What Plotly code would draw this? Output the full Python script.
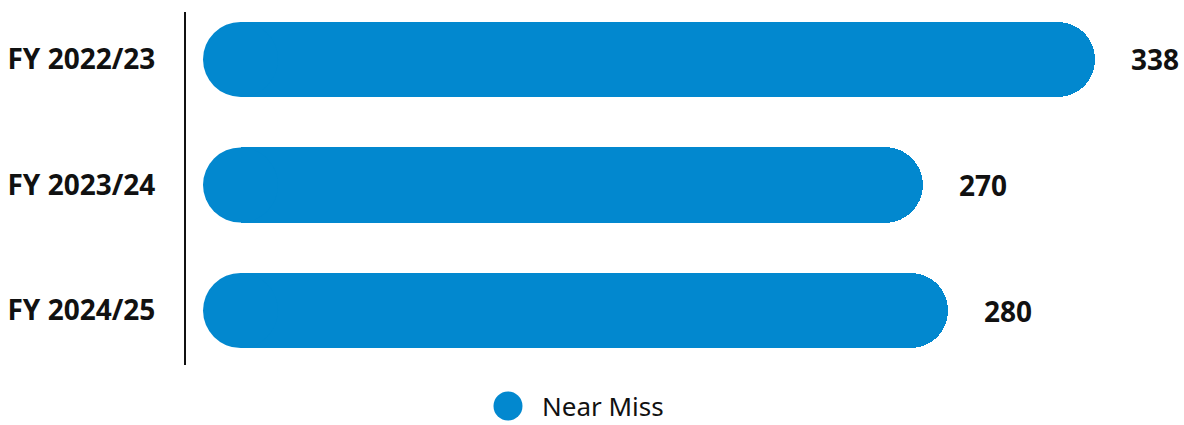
import plotly.graph_objects as go

# Near-miss counts per financial year
years = ["FY 2022/23", "FY 2023/24", "FY 2024/25"]
near_miss = [338, 270, 280]
series_name = "Near Miss"

BLUE = "#0288CF"
INK = "#111111"
BAR_PX = 75          # bar thickness in pixels
ROW_PX = 125.5       # distance between bar centres in pixels

fig = go.Figure()

# Bars, rounded at the value end
fig.add_trace(go.Bar(
    y=years, x=near_miss, orientation="h",
    width=BAR_PX / ROW_PX,
    marker=dict(color=BLUE, line=dict(width=0), cornerradius="50%"),
    showlegend=False, hoverinfo="skip",
))

# Round cap at the base of each bar
fig.add_trace(go.Scatter(
    y=years, x=[0] * len(years), mode="markers",
    marker=dict(size=BAR_PX, color=BLUE, line=dict(width=0), symbol="circle"),
    showlegend=False, hoverinfo="skip", cliponaxis=False,
))

# Value labels to the right of each bar
for yr, v in zip(years, near_miss):
    fig.add_annotation(
        x=v, y=yr, xref="x", yref="y", text=f"<b>{v}</b>",
        showarrow=False, xanchor="left", yanchor="middle", xshift=34,
        font=dict(family="Noto Sans", size=28, color=INK),
    )

# Legend: swatch and label below the bars
L, T, B, W = 186, 12, 60, 1184
plot_w, plot_h = W - L, 425 - T - B
sw_x = (508 - L) / plot_w
sw_y = (365 - 406) / plot_h
fig.add_shape(
    type="circle", xref="paper", yref="paper",
    xsizemode="pixel", ysizemode="pixel",
    xanchor=sw_x, yanchor=sw_y, x0=-14.5, x1=14.5, y0=-14.5, y1=14.5,
    fillcolor=BLUE, line=dict(width=0),
)
fig.add_annotation(
    x=(541 - L) / plot_w, y=sw_y, xref="paper", yref="paper",
    text=series_name, showarrow=False, xanchor="left", yanchor="middle",
    borderpad=0,
    font=dict(family="Noto Sans", size=26, color=INK),
)

fig.update_layout(
    width=1184, height=425,
    margin=dict(l=L, r=0, t=T, b=B, pad=0),
    paper_bgcolor="white", plot_bgcolor="white",
    bargap=0,
    xaxis=dict(range=[-21.56, 373.2], visible=False, fixedrange=True),
    yaxis=dict(
        categoryorder="array", categoryarray=years,
        range=[2.434, -0.378],
        showline=True, linecolor="#111111", linewidth=2,
        showgrid=False, zeroline=False, ticks="",
        ticklabelstandoff=23,
        tickfont=dict(family="Noto Sans", size=28, color=INK, weight="bold"),
        fixedrange=True,
    ),
)

fig.write_html("out.html")
